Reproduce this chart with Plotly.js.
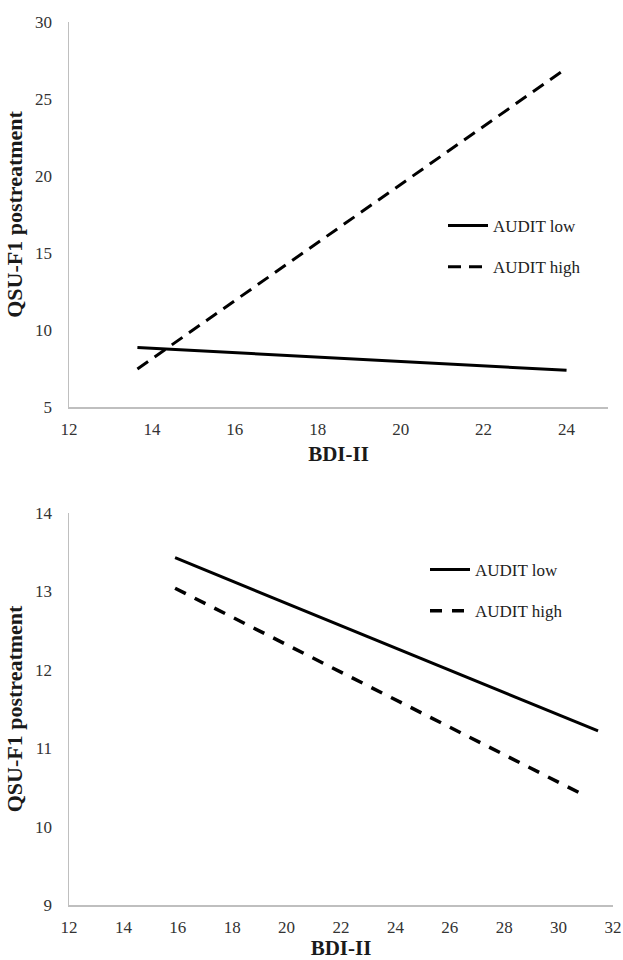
<!DOCTYPE html>
<html>
<head>
<meta charset="utf-8">
<script src="https://cdn.plot.ly/plotly-3.0.1.min.js"></script>
<style>html,body{margin:0;padding:0;background:#fff;}#chart{width:623px;height:960px;}</style>
</head>
<body>
<div id="chart"></div>
<script>
// Panel 1
const bdiTop = [13.65, 24];
const lowTop = [8.87, 7.38];
const highTop = [7.47, 27.0];
// Panel 2
const bdiBotLow = [15.9, 31.45];
const lowBot = [13.43, 11.22];
const bdiBotHigh = [15.9, 31.0];
const highBot = [13.04, 10.39];

const seriesNames = ["AUDIT low", "AUDIT high"];
const xTitle = "BDI-II";
const yTitle = "QSU-F1 postreatment";

const serif = "Liberation Serif";
const axisCol = "#bfbfbf";

const traces = [
  {x: bdiTop, y: lowTop, name: seriesNames[0], mode: "lines", xaxis: "x", yaxis: "y",
   line: {color: "#000", width: 3}, legend: "legend", legendgroup: "a"},
  {x: bdiTop, y: highTop, name: seriesNames[1], mode: "lines", xaxis: "x", yaxis: "y",
   line: {color: "#000", width: 3, dash: "13px,8px"}, legend: "legend", legendgroup: "b"},
  {x: bdiBotLow, y: lowBot, name: seriesNames[0], mode: "lines", xaxis: "x2", yaxis: "y2",
   line: {color: "#000", width: 3}, legend: "legend2", legendgroup: "c"},
  {x: bdiBotHigh, y: highBot, name: seriesNames[1], mode: "lines", xaxis: "x2", yaxis: "y2",
   line: {color: "#000", width: 3.5, dash: "12px,10px"}, legend: "legend2", legendgroup: "d"}
];

function tickFont() { return {family: serif, size: 17, color: "#333"}; }
function titleFont(s) { return {family: serif, size: s, color: "#1a1a1a", weight: "bold"}; }

function xa(domain, range, dtick, anchor) {
  return {domain: domain, range: range, dtick: dtick, tick0: 12, anchor: anchor,
    showline: true, linecolor: axisCol, linewidth: 1.5, showgrid: false, zeroline: false,
    ticks: "", tickfont: tickFont(), ticklabelstandoff: 6,
    title: {text: xTitle, font: titleFont(21), standoff: 8}};
}
function ya(domain, range, dtick, anchor) {
  return {domain: domain, range: range, dtick: dtick, anchor: anchor,
    showline: true, linecolor: axisCol, linewidth: 1.5, showgrid: false, zeroline: false,
    ticks: "", tickfont: tickFont(), ticklabelstandoff: 12,
    title: {text: yTitle, font: titleFont(22), standoff: 6}};
}

const layout = {
  width: 623, height: 960,
  margin: {l: 0, r: 0, t: 0, b: 0},
  font: {family: serif, size: 17, color: "#222"},
  paper_bgcolor: "#fff", plot_bgcolor: "#fff",
  showlegend: true,
  xaxis: xa([69/623, 608/623], [12, 25], 2, "y"),
  yaxis: ya([1 - 407/960, 1 - 22/960], [5, 30], 5, "x"),
  xaxis2: xa([69/623, 613/623], [12, 32], 2, "y2"),
  yaxis2: ya([1 - 905/960, 1 - 513/960], [9, 14], 1, "x2"),
  legend: {x: 443/623, y: 1 - 208/960, xanchor: "left", yanchor: "top",
    font: {family: serif, size: 17, color: "#222"}, bgcolor: "rgba(0,0,0,0)",
    traceorder: "grouped", tracegroupgap: 16, itemwidth: 40},
  legend2: {x: 425/623, y: 1 - 552/960, xanchor: "left", yanchor: "top",
    font: {family: serif, size: 17, color: "#222"}, bgcolor: "rgba(0,0,0,0)",
    traceorder: "grouped", tracegroupgap: 16, itemwidth: 40}
};

Plotly.newPlot("chart", traces, layout, {staticPlot: true, displayModeBar: false});
</script>
</body>
</html>
